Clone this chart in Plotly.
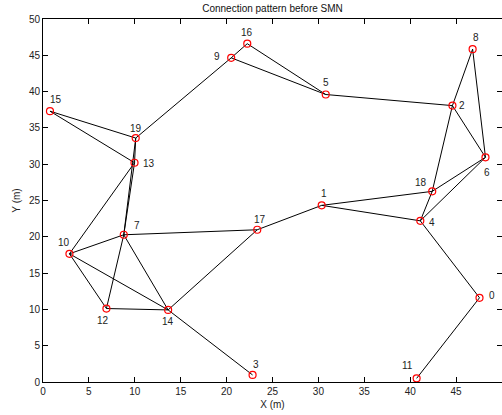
import plotly.graph_objects as go

node_ids = list(range(20))
node_x = [47.55, 30.36, 44.6, 22.83, 41.1, 30.8, 48.2, 8.8, 46.8, 20.5,
          2.88, 40.7, 6.91, 9.97, 13.63, 0.76, 22.25, 23.34, 42.4, 10.1]
node_y = [11.6, 24.33, 38.07, 0.97, 22.2, 39.6, 30.95, 20.28, 45.85, 44.65,
          17.66, 0.5, 10.12, 30.2, 9.93, 37.3, 46.6, 20.97, 26.26, 33.6]

edges = [(16, 9), (16, 5), (9, 5), (9, 19), (5, 2), (2, 8), (8, 6), (2, 6),
         (2, 18), (6, 18), (6, 4), (18, 4), (1, 18), (1, 4), (4, 0), (0, 11),
         (1, 17), (17, 7), (17, 14), (14, 3), (14, 7), (14, 10), (14, 12),
         (12, 10), (12, 7), (10, 7), (10, 13), (13, 19), (19, 7), (13, 7),
         (13, 15), (15, 19)]

# label pixel offsets (dx right, dy down)
label_offsets = {0: (12, -2), 1: (2, -12), 2: (10, 0), 3: (3, -10), 4: (12, 2),
                 5: (0, -12), 6: (2, 15), 7: (13, -9), 8: (3, -12), 9: (-14, -1),
                 10: (-5, -11), 11: (-9, -13), 12: (-3, 12), 13: (14, 1),
                 14: (0, 12), 15: (6, -12), 16: (0, -11), 17: (3, -10),
                 18: (-11, -9), 19: (0, -10)}

ex, ey = [], []
for a, b in edges:
    ex += [node_x[a], node_x[b], None]
    ey += [node_y[a], node_y[b], None]

fig = go.Figure()
fig.add_trace(go.Scatter(x=ex, y=ey, mode="lines",
                         line=dict(color="black", width=1), hoverinfo="skip"))
fig.add_trace(go.Scatter(x=node_x, y=node_y, mode="markers",
                         marker=dict(symbol="circle-open", color="red", size=7,
                                     line=dict(width=1.2, color="red"))))

for i in node_ids:
    dx, dy = label_offsets[i]
    fig.add_annotation(x=node_x[i], y=node_y[i], text=str(i), showarrow=False,
                       xshift=dx, yshift=-dy,
                       font=dict(size=10, color="#222222"))

font = "Liberation Sans, Arial, Helvetica, sans-serif"
axis_common = dict(showline=True, linecolor="black", linewidth=1, mirror="ticks",
                   ticks="inside", ticklen=5, tickcolor="black", dtick=5,
                   showgrid=False, zeroline=False, automargin=False,
                   tickfont=dict(size=10, color="#222222"))
fig.update_xaxes(range=[0, 50], tick0=0,
                 title=dict(text="X (m)", standoff=4, font=dict(size=10, color="#222222")),
                 **axis_common)
fig.update_yaxes(range=[0, 50], tick0=0,
                 title=dict(text="Y (m)", standoff=6, font=dict(size=10, color="#222222")),
                 **axis_common)

fig.update_layout(
    width=502, height=415,
    margin=dict(l=43, r=0, t=19, b=33),
    paper_bgcolor="white", plot_bgcolor="white",
    showlegend=False,
    font=dict(family=font, size=10, color="#222222"),
    title=dict(text="Connection pattern before SMN", x=(43 + 502) / 2 / 502,
               xanchor="center", y=1 - 8 / 415, yanchor="middle",
               font=dict(size=10, color="#111111")),
)

fig.write_html("out.html", config={"displayModeBar": False},
               post_script="document.body.style.margin='0';document.body.style.overflow='hidden';")
